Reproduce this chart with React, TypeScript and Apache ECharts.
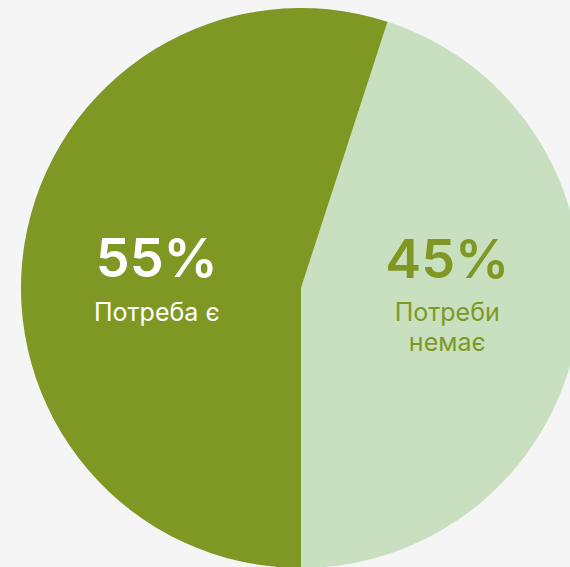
import React, { useEffect, useRef } from "react";
import * as echarts from "echarts";

const categories = ["Потреби\nнемає", "Потреба є"];
const values = [45, 55];
const sliceColors = ["#c8e0c0", "#7f9823"];
const labelColors = ["#7f9823", "#ffffff"];

export default function App() {
  const ref = useRef<HTMLDivElement>(null);
  useEffect(() => {
    document.body.style.margin = "0";
    document.body.style.background = "#f5f5f5";
    const chart = echarts.init(ref.current!, null, { renderer: "svg" });
    const offsets = [
      [5, -22],
      [-3, 7],
    ];
    chart.setOption({
      animation: false,
      backgroundColor: "#f5f5f5",
      series: [
        {
          type: "pie",
          center: [301, 288],
          radius: [0, 280],
          startAngle: 72,
          clockwise: true,
          silent: true,
          labelLine: { show: false },
          data: values.map((v, i) => ({
            value: v,
            name: categories[i],
            itemStyle: { color: sliceColors[i] },
            label: {
              show: true,
              position: "inside",
              formatter: "{a|{c}%}\n{b|{b}}",
              rich: {
                a: {
                  fontFamily: "Inter",
                  fontSize: 54,
                  fontWeight: 600,
                  color: labelColors[i],
                  lineHeight: 78,
                  align: "center",
                },
                b: {
                  fontFamily: "Inter",
                  fontSize: 25,
                  fontWeight: 400,
                  color: labelColors[i],
                  lineHeight: 30,
                  align: "center",
                },
              },
            },
          })),
          labelLayout: (p: any) => ({
            dx: offsets[p.dataIndex][0],
            dy: offsets[p.dataIndex][1],
          }),
        },
      ],
    });
    return () => chart.dispose();
  }, []);
  return <div ref={ref} style={{ width: 570, height: 567 }} />;
}
